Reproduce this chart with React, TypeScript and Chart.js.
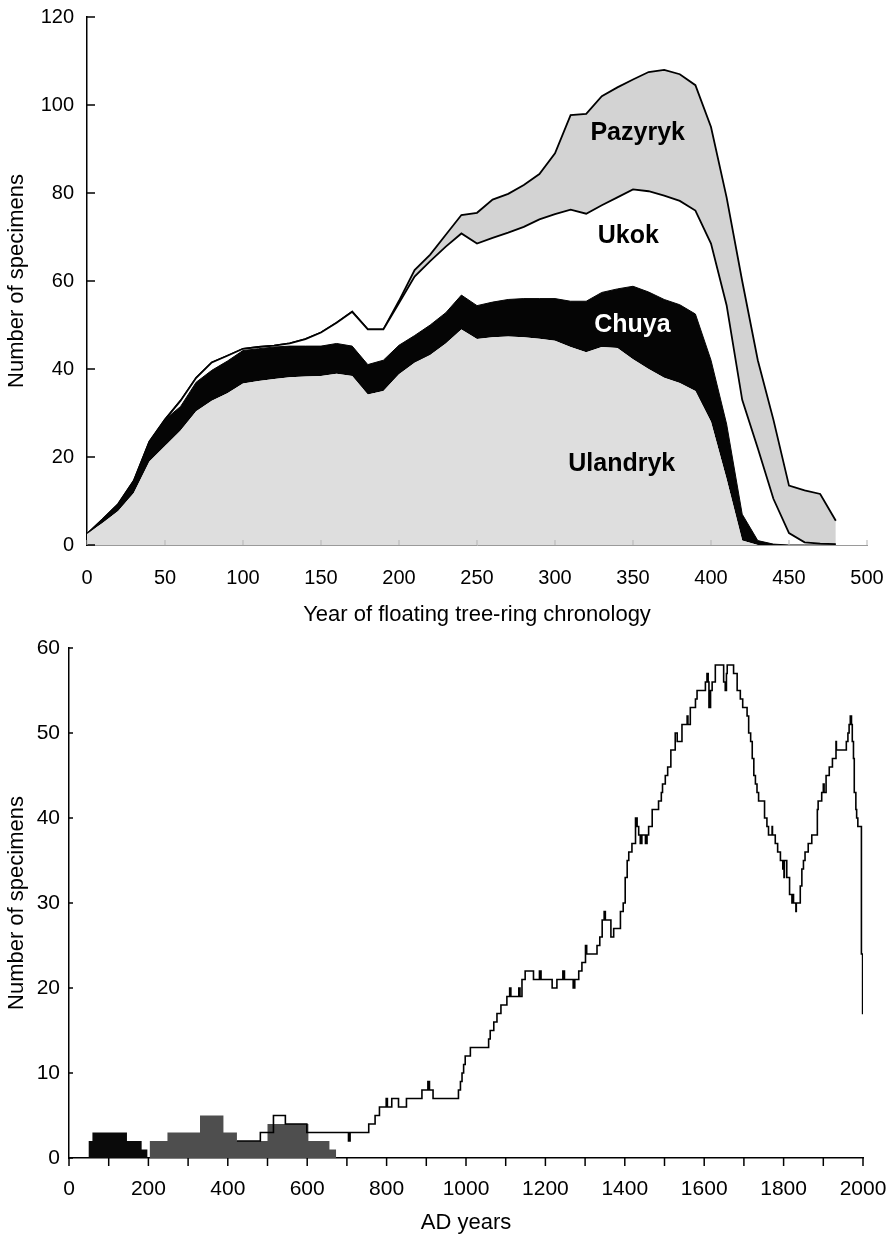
import React, { useEffect, useRef } from 'react';
import { Chart, registerables } from 'chart.js';

Chart.register(...registerables);

const FONT = '"Liberation Sans", Arial, Helvetica, sans-serif';

// ---------- Top chart: floating tree-ring chronology ----------
const FLOAT_YEARS = [0, 10, 20, 30, 40, 50, 60, 70, 80, 90, 100, 110, 120, 130, 140, 150, 160, 170, 180, 190, 200, 210, 220, 230, 240, 250, 260, 270, 280, 290, 300, 310, 320, 330, 340, 350, 360, 370, 380, 390, 400, 410, 420, 430, 440, 450, 460, 470, 480];
const ULANDRYK = [2.5, 5, 7.7, 11.8, 19, 22.5, 26, 30.4, 32.8, 34.5, 36.7, 37.3, 37.7, 38.1, 38.3, 38.4, 38.9, 38.4, 34.2, 35, 38.8, 41.4, 43.2, 45.8, 49, 46.8, 47.2, 47.4, 47.2, 46.9, 46.4, 45, 43.8, 45, 44.8, 42.2, 40, 38, 36.8, 35, 28, 15, 1, 0, 0, 0, 0, 0, 0];
const CHUYA = [0, 0.8, 1.6, 2.8, 4.5, 6, 5.5, 6.6, 6.9, 7.3, 7.5, 7.3, 7.3, 7.1, 6.9, 6.8, 6.9, 6.8, 6.8, 7, 6.6, 6.2, 6.8, 7, 7.8, 7.6, 8, 8.4, 8.8, 9.1, 9.6, 10.4, 11.6, 12.4, 13.4, 16.6, 17.5, 17.8, 17.8, 17.5, 14, 12.5, 6, 1, 0.2, 0, 0, 0, 0];
const UKOK = [0, 0, 0, 0, 0, 0, 1.3, 1, 1.8, 1.2, 0.4, 0.4, 0.3, 0.6, 1.6, 3.1, 4.7, 7.8, 8, 7, 9.6, 13.4, 14.5, 15, 14, 14.1, 14.6, 15.2, 16.3, 18, 19.2, 20.8, 19.9, 19.8, 20.8, 22, 22.9, 23.6, 23.6, 23.5, 26.5, 27, 26, 21, 10.3, 2.7, 0.6, 0.3, 0.2];
const PAZYRYK = [0, 0, 0, 0, 0, 0, 0, 0, 0, 0, 0, 0, 0, 0, 0, 0, 0, 0, 0, 0, 0.5, 1.5, 1.5, 2.7, 4.2, 7, 8.7, 8.8, 9.5, 10.3, 13.8, 21.5, 22.7, 24.8, 25, 25, 27.1, 28.6, 28.8, 28.5, 26.5, 24.5, 27, 20, 18, 10.8, 11.8, 11.3, 5.3];
const TOP_X_TICK_MARKS = [0, 50, 100, 150, 200, 250, 300, 350, 400, 450, 500];
const TOP_Y_TICK_MARKS = [0, 20, 40, 60, 80, 100, 120];
const SITE_NAMES = ['Pazyryk', 'Ukok', 'Chuya', 'Ulandryk'];
const SITE_LABEL_X = [353, 347, 349.6, 342.8];
const SITE_LABEL_Y = [93.7, 70.2, 49.9, 18.3];

// ---------- Bottom chart: AD years ----------
const EARLY_BLACK_YEARS = [49, 59, 146, 183, 198];
const EARLY_BLACK_COUNTS = [2, 3, 2, 1, 1];
const EARLY_GRAY_YEARS = [203, 248, 330, 389, 423, 500, 603, 656, 673];
const EARLY_GRAY_COUNTS = [2, 3, 5, 3, 2, 4, 2, 1, 1];
const AD_YEARS = [423, 482, 515, 545, 599, 704, 708, 755, 771, 782, 799, 802, 813, 830, 850, 889, 904, 908, 917, 981, 986, 990, 994, 998, 1011, 1057, 1061, 1070, 1078, 1088, 1103, 1110, 1113, 1133, 1136, 1141, 1149, 1170, 1185, 1189, 1217, 1229, 1244, 1248, 1270, 1274, 1284, 1292, 1301, 1304, 1330, 1337, 1343, 1348, 1351, 1365, 1372, 1389, 1396, 1401, 1406, 1410, 1418, 1427, 1431, 1435, 1439, 1443, 1452, 1456, 1460, 1469, 1485, 1492, 1495, 1502, 1508, 1516, 1527, 1532, 1544, 1557, 1559, 1565, 1578, 1582, 1603, 1607, 1610, 1612, 1616, 1620, 1628, 1649, 1653, 1656, 1658, 1674, 1683, 1691, 1697, 1708, 1712, 1717, 1721, 1725, 1729, 1733, 1737, 1752, 1758, 1762, 1771, 1772, 1779, 1785, 1792, 1798, 1801, 1802, 1808, 1815, 1821, 1823, 1825, 1831, 1832, 1842, 1846, 1850, 1854, 1862, 1871, 1885, 1887, 1896, 1900, 1902, 1907, 1915, 1923, 1932, 1933, 1958, 1962, 1965, 1968, 1971, 1973, 1976, 1978, 1982, 1984, 1987, 1996, 1999, 2000];
const AD_COUNTS = [2, 3, 5, 4, 3, 2, 3, 4, 5, 6, 7, 6, 7, 6, 7, 8, 9, 8, 7, 8, 9, 10, 11, 12, 13, 14, 15, 16, 17, 18, 19, 20, 19, 20, 19, 21, 22, 21, 22, 21, 20, 21, 22, 21, 20, 21, 22, 23, 25, 24, 25, 26, 28, 29, 28, 26, 27, 29, 30, 33, 35, 36, 37, 40, 39, 38, 37, 38, 37, 38, 39, 41, 42, 43, 44, 45, 46, 48, 50, 49, 51, 52, 51, 53, 54, 55, 56, 57, 56, 53, 55, 56, 58, 56, 55, 57, 58, 57, 55, 54, 53, 52, 50, 49, 47, 45, 44, 43, 42, 40, 39, 38, 39, 38, 37, 36, 35, 34, 33, 35, 33, 31, 30, 31, 30, 29, 30, 32, 34, 35, 36, 37, 38, 41, 42, 43, 44, 43, 45, 46, 47, 49, 48, 49, 50, 51, 52, 51, 49, 47, 43, 41, 40, 39, 24, 17, 17];
const BOTTOM_X_TICK_MARKS = [0, 100, 200, 300, 400, 500, 600, 700, 800, 900, 1000, 1100, 1200, 1300, 1400, 1500, 1600, 1700, 1800, 1900, 2000];
const BOTTOM_Y_TICK_MARKS = [0, 10, 20, 30, 40, 50, 60];

const pts = (xs: number[], ys: number[]) => xs.map((x, i) => ({ x, y: ys[i] }));

const axisTicks = {
  id: 'axisTicks',
  afterDraw(chart: any, _args: any, opts: any) {
    const { ctx, chartArea } = chart;
    const xs = chart.scales.x;
    const ys = chart.scales.y;
    ctx.save();
    ctx.lineCap = 'butt';
    ctx.strokeStyle = opts.yColor;
    ctx.lineWidth = opts.yWidth;
    (opts.yValues || []).forEach((v: number) => {
      const py = ys.getPixelForValue(v);
      ctx.beginPath();
      ctx.moveTo(chartArea.left, py);
      ctx.lineTo(chartArea.left + opts.yLength, py);
      ctx.stroke();
    });
    ctx.strokeStyle = opts.xColor;
    ctx.lineWidth = opts.xWidth;
    (opts.xValues || []).forEach((v: number) => {
      const px = xs.getPixelForValue(v);
      ctx.beginPath();
      ctx.moveTo(px, chartArea.bottom);
      ctx.lineTo(px, chartArea.bottom - opts.xLength);
      ctx.stroke();
    });
    ctx.restore();
  },
};

const areaLabels = {
  id: 'areaLabels',
  afterDatasetsDraw(chart: any, _args: any, opts: any) {
    if (!opts.names) return;
    const { ctx } = chart;
    const xs = chart.scales.x;
    const ys = chart.scales.y;
    ctx.save();
    ctx.font = opts.font;
    ctx.textAlign = 'center';
    ctx.textBaseline = 'middle';
    opts.names.forEach((name: string, i: number) => {
      ctx.fillStyle = opts.colors[i];
      ctx.fillText(name, xs.getPixelForValue(opts.xs[i]), ys.getPixelForValue(opts.ys[i]));
    });
    ctx.restore();
  },
};

const fitX = (h: number) => (s: any) => {
  s.height = h;
  s.paddingLeft = 0;
  s.paddingRight = 0;
};
const fitY = (w: number) => (s: any) => {
  s.width = w;
  s.paddingTop = 0;
  s.paddingBottom = 0;
};
const plain = (v: any) => String(v);

function topConfig(): any {
  return {
    type: 'line',
    data: {
      datasets: [
        { label: 'Ulandryk', data: pts(FLOAT_YEARS, ULANDRYK), fill: 'origin', backgroundColor: '#dedede', borderColor: 'rgba(0,0,0,0)', borderWidth: 0 },
        { label: 'Chuya', data: pts(FLOAT_YEARS, CHUYA), fill: '-1', backgroundColor: '#050505', borderColor: '#050505', borderWidth: 1 },
        { label: 'Ukok', data: pts(FLOAT_YEARS, UKOK), fill: '-1', backgroundColor: '#ffffff', borderColor: '#000', borderWidth: 1.8 },
        { label: 'Pazyryk', data: pts(FLOAT_YEARS, PAZYRYK), fill: '-1', backgroundColor: '#d3d3d3', borderColor: '#000', borderWidth: 1.8 },
      ],
    },
    options: {
      animation: false,
      responsive: false,
      maintainAspectRatio: false,
      devicePixelRatio: 1,
      events: [],
      layout: { padding: { left: 0, right: 24, top: 17, bottom: 0 } },
      elements: { point: { radius: 0 }, line: { tension: 0 } },
      plugins: {
        legend: { display: false },
        tooltip: { enabled: false },
        axisTicks: { yValues: TOP_Y_TICK_MARKS, yLength: 8, yColor: '#000', yWidth: 1.5, xValues: TOP_X_TICK_MARKS, xLength: 5, xColor: '#b5b5b5', xWidth: 1 },
        areaLabels: { names: SITE_NAMES, xs: SITE_LABEL_X, ys: SITE_LABEL_Y, colors: ['#000', '#000', '#fff', '#000'], font: `bold 25px ${FONT}` },
      },
      scales: {
        x: {
          type: 'linear', min: 0, max: 500,
          ticks: { stepSize: 50, autoSkip: false, maxRotation: 0, padding: 21, color: '#000', font: { family: FONT, size: 20 }, callback: plain },
          grid: { display: true, drawOnChartArea: false, drawTicks: false },
          border: { display: true, color: '#9a9a9a', width: 1 },
          title: { display: true, text: 'Year of floating tree-ring chronology', color: '#000', font: { family: FONT, size: 22 }, padding: { top: 0, bottom: 2 } },
          afterFit: fitX(85),
        },
        y: {
          stacked: true, min: 0, max: 120,
          ticks: { stepSize: 20, padding: 13, color: '#000', font: { family: FONT, size: 20 }, callback: plain },
          grid: { display: true, drawOnChartArea: false, drawTicks: false },
          border: { display: true, color: '#000', width: 1.5 },
          title: { display: true, text: 'Number of specimens', color: '#000', font: { family: FONT, size: 22 }, padding: { top: 4, bottom: 0 } },
          afterFit: fitY(87),
        },
      },
    },
    plugins: [axisTicks, areaLabels],
  };
}

function bottomConfig(): any {
  return {
    type: 'line',
    data: {
      datasets: [
        { label: 'All specimens', data: pts(AD_YEARS, AD_COUNTS), stepped: true, fill: false, borderColor: '#000', borderWidth: 1.6 },
        { label: 'Early group A', data: pts(EARLY_BLACK_YEARS, EARLY_BLACK_COUNTS), stepped: true, fill: 'origin', backgroundColor: '#0a0a0a', borderColor: 'rgba(0,0,0,0)', borderWidth: 0 },
        { label: 'Early group B', data: pts(EARLY_GRAY_YEARS, EARLY_GRAY_COUNTS), stepped: true, fill: 'origin', backgroundColor: '#4e4e4e', borderColor: 'rgba(0,0,0,0)', borderWidth: 0 },
      ],
    },
    options: {
      animation: false,
      responsive: false,
      maintainAspectRatio: false,
      devicePixelRatio: 1,
      events: [],
      layout: { padding: { left: 0, right: 28, top: 18, bottom: 0 } },
      elements: { point: { radius: 0 }, line: { tension: 0 } },
      plugins: {
        legend: { display: false },
        tooltip: { enabled: false },
        axisTicks: { yValues: BOTTOM_Y_TICK_MARKS, yLength: 4, yColor: '#000', yWidth: 1.5, xValues: BOTTOM_X_TICK_MARKS, xLength: -8, xColor: '#000', xWidth: 1.5 },
      },
      scales: {
        x: {
          type: 'linear', min: 0, max: 2000,
          ticks: { stepSize: 200, autoSkip: false, maxRotation: 0, padding: 19, color: '#000', font: { family: FONT, size: 21 }, callback: plain },
          grid: { display: true, drawOnChartArea: false, drawTicks: false },
          border: { display: true, color: '#000', width: 1.5 },
          title: { display: true, text: 'AD years', color: '#000', font: { family: FONT, size: 22 }, padding: { top: 0, bottom: 2 } },
          afterFit: fitX(80),
        },
        y: {
          min: 0, max: 60,
          ticks: { stepSize: 10, padding: 9, color: '#000', font: { family: FONT, size: 21 }, callback: plain },
          grid: { display: true, drawOnChartArea: false, drawTicks: false },
          border: { display: true, color: '#000', width: 1.5 },
          title: { display: true, text: 'Number of specimens', color: '#000', font: { family: FONT, size: 22 }, padding: { top: 4, bottom: 0 } },
          afterFit: fitY(69),
        },
      },
    },
    plugins: [axisTicks],
  };
}

export default function App() {
  const topRef = useRef<HTMLCanvasElement>(null);
  const botRef = useRef<HTMLCanvasElement>(null);
  useEffect(() => {
    Chart.defaults.font.family = FONT;
    Chart.defaults.color = '#000';
    const top = new Chart(topRef.current as HTMLCanvasElement, topConfig());
    const bot = new Chart(botRef.current as HTMLCanvasElement, bottomConfig());
    return () => {
      top.destroy();
      bot.destroy();
    };
  }, []);
  return (
    <div style={{ position: 'absolute', left: 0, top: 0, width: 891, height: 1238, background: '#fff' }}>
      <canvas ref={topRef} width={891} height={630} style={{ display: 'block', width: 891, height: 630 }} />
      <canvas ref={botRef} width={891} height={608} style={{ display: 'block', width: 891, height: 608 }} />
    </div>
  );
}
